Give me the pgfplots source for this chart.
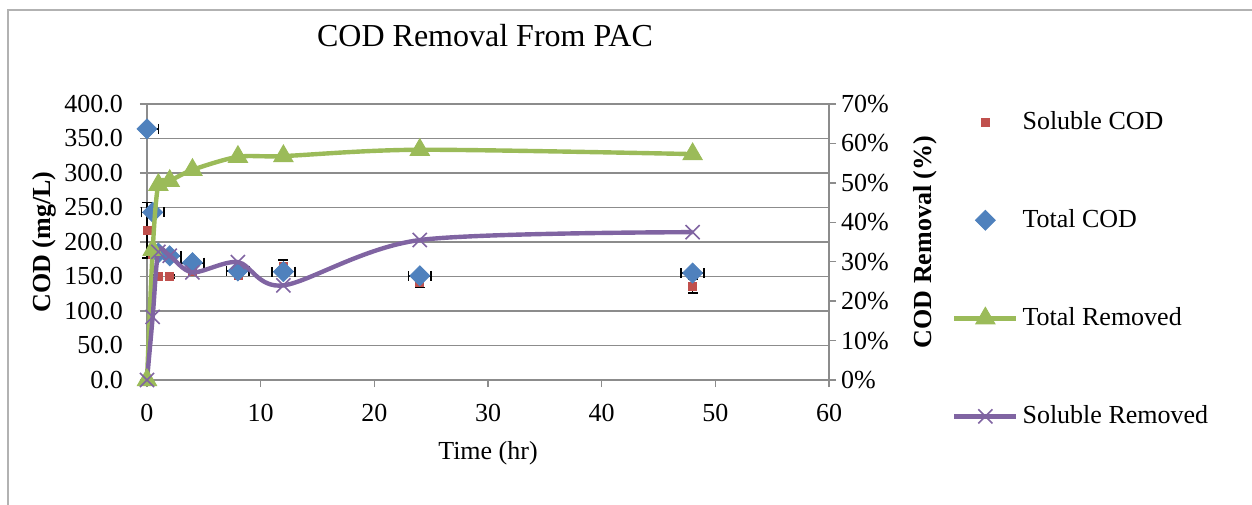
\documentclass[border=0pt]{standalone}
\usepackage{pgfplots}
\pgfplotsset{compat=1.18}
\usepackage{fontspec}
\setmainfont{Liberation Serif}

\definecolor{codblue}{HTML}{4F81BD}
\definecolor{codred}{HTML}{C0504D}
\definecolor{codgreen}{HTML}{9BBB59}
\definecolor{codpurple}{HTML}{8064A2}
\definecolor{gridgray}{HTML}{8C8C8C}

\pgfkeys{/pgf/number format/assume math mode=true}

\pgfplotsset{
  codaxis/.style={
    at={(73.5pt,62pt)}, anchor=south west,
    scale only axis, width=341pt, height=138pt,
    xmin=0, xmax=60,
    clip=false,
    font=\fontsize{13}{15}\selectfont,
    tick label style={font=\fontsize{13}{15}\selectfont},
    axis line style={gridgray, line width=0.7pt},
    tick style={gridgray, line width=0.7pt},
    tick align=outside, major tick length=3.5pt,
  },
}

\begin{document}
\begin{tikzpicture}[x=1pt,y=1pt]
\useasboundingbox (0,0) rectangle (626,252);
\draw[gray!60, line width=0.6pt] (4,-10) rectangle (640,247);
\node[font=\fontsize{16}{19}\selectfont] at (242.5,234) {COD Removal From PAC};

% left axis: concentrations
\begin{axis}[codaxis,
    ymin=0, ymax=400,
    axis y line*=left, axis x line*=bottom,
    xtick={0,10,...,60}, ytick={0,50,...,400},
    ymajorgrids, major grid style={gridgray, line width=0.7pt},
    yticklabel style={/pgf/number format/fixed, /pgf/number format/fixed zerofill,
      /pgf/number format/precision=1, xshift=-5pt},
    xticklabel style={yshift=-5pt},
    xlabel={Time (hr)},
    xlabel style={at={(axis description cs:0.5,-0.265)}, anchor=center},
    ylabel={\textbf{COD (mg/L)}},
    ylabel style={at={(axis description cs:-0.151,0.5)}, anchor=center},
    error bars/error bar style={black, line width=0.8pt},
    error bars/error mark options={black, line width=0.8pt, mark size=2.5pt, rotate=90},
]
\addplot[only marks, mark=square*, mark size=2pt, color=codred,
    error bars/.cd, y dir=both, y explicit]
  coordinates {
    (0,217) +- (0,40)
    (0.5,182) +- (0,0)
    (1,150) +- (0,2)
    (2,150) +- (0,2)
    (4,158) +- (0,0)
    (8,152) +- (0,0)
    (12,165) +- (0,9)
    (24,141) +- (0,7)
    (48,136) +- (0,10)
  };
\addplot[only marks, mark=diamond*, mark size=5pt, mark options={xscale=1.33}, color=codblue,
    error bars/.cd, x dir=both, x explicit]
  coordinates {
    (0,364) += (1,0) -= (0,0)
    (0.5,243) +- (1,0)
    (1,184) +- (1,0)
    (2,180) +- (1,0)
    (4,170) +- (1,0)
    (8,158) +- (1,0)
    (12,157) +- (1,0)
    (24,151) +- (1,0)
    (48,155) +- (1,0)
  };
\end{axis}

% right axis: removal percentages
\begin{axis}[codaxis,
    ymin=0, ymax=70,
    axis y line*=right, axis x line=none,
    ytick={0,10,...,70},
    yticklabel={\pgfmathprintnumber{\tick}\%},
    yticklabel style={xshift=-1pt},
    ylabel={\textbf{COD Removal (\%)}},
    ylabel style={at={(axis description cs:1.141,0.5)}, anchor=center, rotate=0},
    legend style={at={(1.18,0.988)}, anchor=north west, draw=none, fill=none,
      font=\fontsize{13}{15}\selectfont, row sep=34.5pt, inner sep=0pt},
    legend cell align=left,
    legend image code/.code={
      \draw[mark repeat=2, mark phase=2] plot coordinates {(0pt,0pt) (15.5pt,0pt) (31pt,0pt)};
    },
]
\addlegendimage{only marks, mark=square*, mark size=2pt, color=codred}
\addlegendentry{Soluble COD}
\addlegendimage{only marks, mark=diamond*, mark size=5pt, mark options={xscale=1.33}, color=codblue}
\addlegendentry{Total COD}
\addplot[color=codgreen, line width=2.2pt, smooth, tension=0.5,
    mark=triangle*, mark size=5.5pt, mark options={line width=0.5pt}]
  coordinates {
    (0,0) (0.5,33) (1,49.5) (2,50.5) (4,53.3) (8,56.6) (12,56.8) (24,58.4) (48,57.3)
  };
\addlegendentry{Total Removed}
\addplot[color=codpurple, line width=2.2pt, smooth, tension=0.5,
    mark=x, mark size=5pt, mark options={line width=0.8pt}]
  coordinates {
    (0,0) (0.5,16) (1,32.5) (2,31.5) (4,27.3) (8,29.9) (12,24.0) (24,35.5) (48,37.5)
  };
\addlegendentry{Soluble Removed}
\end{axis}
\end{tikzpicture}
\end{document}
